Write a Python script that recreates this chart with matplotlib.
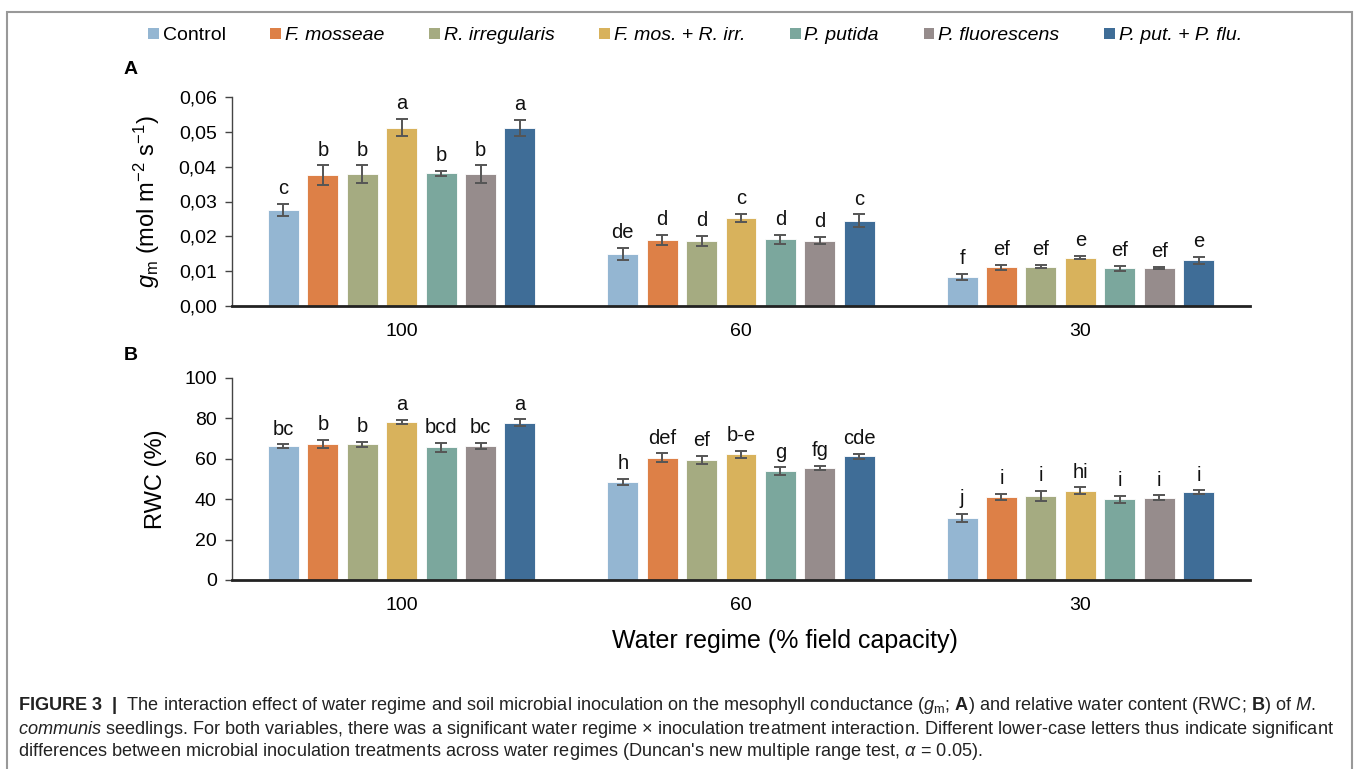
import matplotlib
matplotlib.use("Agg")
import matplotlib.pyplot as plt
import numpy as np
from matplotlib.ticker import FuncFormatter, MultipleLocator
from matplotlib.patches import Patch, Rectangle

plt.rcParams['font.family'] = ['Liberation Sans', 'DejaVu Sans']
plt.rcParams['mathtext.fontset'] = 'custom'
plt.rcParams['mathtext.rm'] = 'Liberation Sans'
plt.rcParams['mathtext.it'] = 'Liberation Sans:italic'
plt.rcParams['mathtext.bf'] = 'Liberation Sans:bold'

regimes = ['100', '60', '30']
treatments = ['Control', 'F. mosseae', 'R. irregularis', 'F. mos. + R. irr.',
              'P. putida', 'P. fluorescens', 'P. put. + P. flu.']
colors = ['#94B6D2', '#DD8047', '#A5AB81', '#D8B25C', '#7BA79D', '#968C8C', '#3F6D97']

# gm (mol m-2 s-1): rows = treatments, cols = regimes (100, 60, 30)
gm_mean = [[0.0275, 0.0150, 0.0084],
           [0.0375, 0.0190, 0.0111],
           [0.0378, 0.0187, 0.0113],
           [0.0512, 0.0252, 0.0139],
           [0.0381, 0.0192, 0.0108],
           [0.0378, 0.0188, 0.0109],
           [0.0512, 0.0245, 0.0132]]
gm_err = [[0.0018, 0.0017, 0.0008],
          [0.0029, 0.0014, 0.0007],
          [0.0026, 0.0014, 0.0005],
          [0.0025, 0.0012, 0.0005],
          [0.0007, 0.0013, 0.0007],
          [0.0026, 0.0011, 0.0004],
          [0.0023, 0.0018, 0.0010]]
gm_letters = [['c', 'de', 'f'],
              ['b', 'd', 'ef'],
              ['b', 'd', 'ef'],
              ['a', 'c', 'e'],
              ['b', 'd', 'ef'],
              ['b', 'd', 'ef'],
              ['a', 'c', 'e']]

# RWC (%)
rwc_mean = [[66.2, 48.7, 30.8],
            [67.5, 60.5, 41.3],
            [67.2, 59.3, 41.6],
            [78.2, 62.2, 44.3],
            [65.6, 54.0, 40.0],
            [66.4, 55.6, 40.8],
            [77.8, 61.2, 43.5]]
rwc_err = [[1.0, 1.5, 2.1],
           [2.0, 2.2, 1.5],
           [1.3, 2.1, 2.7],
           [1.0, 1.7, 1.7],
           [2.2, 1.9, 1.8],
           [1.5, 1.0, 1.2],
           [1.7, 1.4, 1.0]]
rwc_letters = [['bc', 'h', 'j'],
               ['b', 'def', 'i'],
               ['b', 'ef', 'i'],
               ['a', 'b-e', 'hi'],
               ['bcd', 'g', 'i'],
               ['bc', 'fg', 'i'],
               ['a', 'cde', 'i']]

W, H = 1359, 769
fig = plt.figure(figsize=(W / 100, H / 100), dpi=100)

def fx(px):
    return px / W

def fy(py):
    return 1 - py / H

pitch = 39.5 / 340
bw = 31 / 340
x = np.arange(len(regimes))

def panel(ax, means, errs, letters, ymax, step, fmt, ylabel):
    for j in range(len(treatments)):
        pos = x + (j - 3) * pitch
        ax.bar(pos, means[j], width=bw, color=colors[j], edgecolor='white',
               linewidth=0.6, zorder=2)
        ax.errorbar(pos, means[j], yerr=errs[j], fmt='none', ecolor='#555555',
                    elinewidth=1.4, capsize=4.5, capthick=1.4, zorder=3)
        for k in range(len(regimes)):
            ax.annotate(letters[j][k], (pos[k], means[j][k] + errs[j][k]),
                        xytext=(0, 4), textcoords='offset points',
                        ha='center', va='bottom', fontsize=14.5, color='#111111')
    ax.set_xlim(-0.5, 2.5)
    ax.set_ylim(0, ymax)
    ax.yaxis.set_major_locator(MultipleLocator(step))
    ax.yaxis.set_major_formatter(FuncFormatter(fmt))
    ax.set_xticks(x)
    ax.set_xticklabels(regimes)
    ax.tick_params(axis='x', length=0, pad=12, labelsize=14)
    ax.tick_params(axis='y', length=5, width=1, color='#444444', labelsize=14, pad=6)
    for s in ['top', 'right']:
        ax.spines[s].set_visible(False)
    ax.spines['left'].set_color('#444444')
    ax.spines['left'].set_linewidth(1)
    ax.spines['bottom'].set_color('#222222')
    ax.spines['bottom'].set_linewidth(2)
    ax.set_ylabel(ylabel, fontsize=17, labelpad=12)

axA = fig.add_axes([fx(232), fy(306), fx(1250) - fx(232), fy(97) - fy(306)])
panel(axA, gm_mean, gm_err, gm_letters, 0.06, 0.01,
      lambda v, p: f"{v:.2f}".replace('.', ','),
      r"$g_{\mathrm{m}}$ (mol m$^{\mathrm{-2}}$ s$^{\mathrm{-1}}$)")

axB = fig.add_axes([fx(232), fy(580), fx(1250) - fx(232), fy(378) - fy(580)])
panel(axB, rwc_mean, rwc_err, rwc_letters, 100, 20,
      lambda v, p: f"{v:.0f}", "RWC (%)")

fig.text(fx(785), fy(641), "Water regime (% field capacity)", ha='center',
         va='center', fontsize=18)
fig.text(fx(124), fy(70), "A", ha='left', va='center', fontsize=14, fontweight='bold')
fig.text(fx(124), fy(355), "B", ha='left', va='center', fontsize=14, fontweight='bold')

handles = [Patch(facecolor=c, edgecolor='none') for c in colors]
leg = fig.legend(handles, treatments, loc='center', bbox_to_anchor=(fx(695), fy(36)),
                 ncol=7, frameon=False, fontsize=14, handlelength=0.55,
                 handleheight=0.55, handletextpad=0.2, columnspacing=2.3)
for t in leg.get_texts()[1:]:
    t.set_style('italic')

# outer frame
fig.patches.append(Rectangle((fx(7), -0.01), fx(1352) - fx(7), fy(12) + 0.01,
                             transform=fig.transFigure, fill=False,
                             edgecolor='#999999', linewidth=1.5))

cap1 = (r"$\mathbf{FIGURE\ 3}$  $\mathbf{|}$  The interaction effect of water regime and soil microbial "
        r"inoculation on the mesophyll conductance ($g_{\mathrm{m}}$; $\mathbf{A}$) and relative water "
        r"content (RWC; $\mathbf{B}$) of $\mathit{M.}$")
cap2 = (r"$\mathit{communis}$ seedlings. For both variables, there was a significant water regime "
        "\u00d7 inoculation treatment interaction. Different lower-case letters thus indicate significant")
cap3 = (r"differences between microbial inoculation treatments across water regimes (Duncan's new "
        r"multiple range test, $\alpha$ = 0.05).")
for i, c in enumerate([cap1, cap2, cap3]):
    fig.text(fx(18), fy(706 + 23 * i), c, ha='left', va='center', fontsize=13.1, color='#222222')

fig.savefig("out.png", dpi=100)
